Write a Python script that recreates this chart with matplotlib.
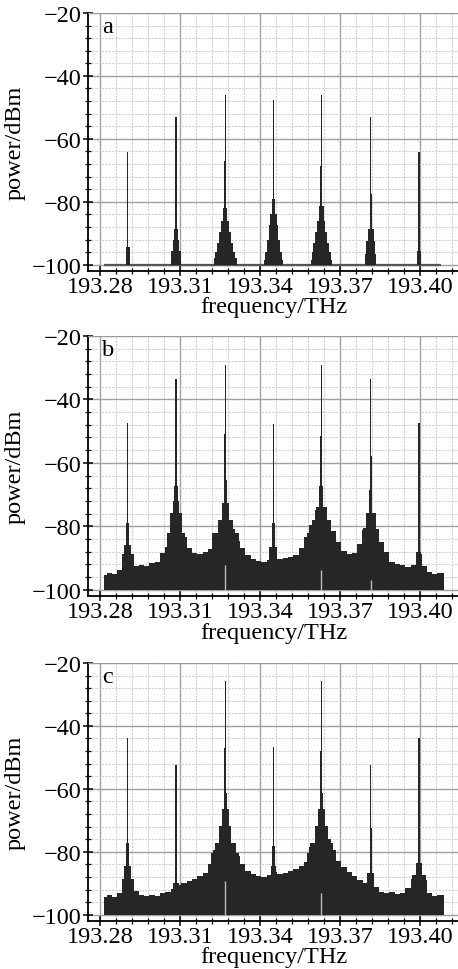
import matplotlib
matplotlib.use("Agg")
import matplotlib.pyplot as plt
from matplotlib.ticker import MultipleLocator, FormatStrFormatter

plt.rcParams['font.family'] = ['Liberation Serif', 'DejaVu Serif']

# peak centre frequencies (THz), same in all three spectra
peak_freq = [193.2904, 193.3085, 193.3270, 193.3450, 193.3630, 193.3815, 193.3996]

# stepped peak profiles: (full width in THz, level in dBm), narrowest first
peaks_a = [
    [(0.0005, -64.1), (0.0016, -94.5)],
    [(0.0005, -53.0), (0.0008, -75.5), (0.0013, -88.5), (0.0025, -92.0), (0.0038, -95.5)],
    [(0.0005, -46.2), (0.0008, -67.0), (0.0015, -82.0), (0.0030, -86.0), (0.0045, -89.5),
     (0.0060, -93.0), (0.0075, -96.0), (0.0085, -98.0)],
    [(0.0005, -47.7), (0.0012, -79.0), (0.0025, -84.0), (0.0035, -87.5), (0.0050, -92.0),
     (0.0065, -96.0), (0.0072, -98.5)],
    [(0.0005, -46.2), (0.0008, -68.5), (0.0017, -81.5), (0.0030, -86.0), (0.0045, -89.5),
     (0.0060, -93.0), (0.0072, -96.0), (0.0080, -98.5)],
    [(0.0005, -53.0), (0.0009, -77.5), (0.0022, -88.5), (0.0032, -92.5), (0.0043, -96.5)],
    [(0.0005, -64.1), (0.0016, -95.6)],
]
peaks_b = [
    [(0.0005, -47.3), (0.0010, -79.0), (0.0025, -86.0), (0.0044, -88.6)],
    [(0.0005, -33.5), (0.0008, -55.8), (0.0013, -67.4), (0.0025, -72.0), (0.0044, -75.9), (0.0071, -82.2)],
    [(0.0005, -29.3), (0.0008, -51.0), (0.0013, -65.3), (0.0025, -72.7), (0.0056, -78.0), (0.0100, -82.2)],
    [(0.0005, -47.8), (0.0010, -79.0), (0.0030, -86.5)],
    [(0.0005, -29.3), (0.0008, -51.5), (0.0015, -67.4), (0.0044, -73.8), (0.0069, -78.0), (0.0106, -82.2)],
    [(0.0005, -33.5), (0.0008, -57.9), (0.0013, -68.5), (0.0037, -75.9), (0.0062, -81.2)],
    [(0.0005, -47.3), (0.0010, -78.8), (0.0025, -88.6)],
]
peaks_c = [
    [(0.0005, -43.7), (0.0010, -77.1), (0.0028, -84.6), (0.0044, -88.8)],
    [(0.0005, -52.5), (0.0008, -70.7), (0.0022, -89.8)],
    [(0.0005, -25.6), (0.0008, -47.0), (0.0013, -61.2), (0.0025, -66.5), (0.0044, -71.8),
     (0.0081, -77.1), (0.0106, -80.3)],
    [(0.0005, -46.8), (0.0010, -78.2), (0.0021, -84.6)],
    [(0.0005, -25.6), (0.0008, -48.0), (0.0013, -61.2), (0.0025, -66.5), (0.0050, -71.8),
     (0.0087, -77.1), (0.0110, -80.3)],
    [(0.0005, -52.5), (0.0008, -72.3), (0.0025, -86.7)],
    [(0.0005, -43.7), (0.0010, -75.5), (0.0025, -83.5), (0.0050, -87.3)],
]

# noise floor / broad skirts of spectra b and c
floor_freq = [193.2815, 193.2835, 193.2855, 193.2875, 193.2895, 193.2915, 193.2935, 193.2955,
              193.2975, 193.2995, 193.3015, 193.3035, 193.3055, 193.3075, 193.3095, 193.3115,
              193.3135, 193.3155, 193.3175, 193.3195, 193.3215, 193.3235, 193.3255, 193.3275,
              193.3295, 193.3315, 193.3335, 193.3355, 193.3375, 193.3395, 193.3415, 193.3435,
              193.3455, 193.3475, 193.3495, 193.3515, 193.3535, 193.3555, 193.3575, 193.3595,
              193.3615, 193.3635, 193.3655, 193.3675, 193.3695, 193.3715, 193.3735, 193.3755,
              193.3775, 193.3795, 193.3815, 193.3835, 193.3855, 193.3875, 193.3895, 193.3915,
              193.3935, 193.3955, 193.3975, 193.3995, 193.4015, 193.4035, 193.4055, 193.4075,
              193.4088]
floor_b = [-95.3, -94.6, -94.9, -93.8, -92.0, -92.0, -92.6, -92.2,
           -92.6, -91.6, -91.2, -88.5, -86.5, -82.0, -80.0, -83.5,
           -86.8, -88.3, -88.6, -88.2, -87.2, -82.5, -78.0, -77.0,
           -81.0, -84.5, -86.8, -89.2, -90.3, -90.9, -91.4, -90.5,
           -89.5, -90.4, -90.0, -89.6, -89.0, -86.8, -83.5, -79.5,
           -75.0, -74.0, -78.0, -81.5, -85.0, -87.8, -88.9, -88.5,
           -85.5, -80.5, -77.0, -81.0, -85.0, -88.0, -91.2, -91.8,
           -92.3, -92.8, -92.2, -88.0, -92.5, -94.3, -94.9, -94.6,
           -94.6]
floor_c = [-94.3, -93.6, -94.4, -93.2, -91.5, -90.8, -92.5, -93.8,
           -94.2, -93.6, -94.0, -93.1, -92.8, -91.7, -90.5, -89.8,
           -89.2, -88.5, -87.8, -86.9, -84.0, -79.5, -73.0, -72.0,
           -78.0, -81.5, -84.0, -86.0, -87.2, -87.6, -87.9, -87.3,
           -86.5, -87.2, -86.8, -86.2, -85.4, -84.6, -83.2, -78.5,
           -72.5, -71.5, -76.0, -79.5, -82.8, -84.8, -86.4, -87.6,
           -89.1, -90.0, -89.0, -91.2, -92.7, -93.1, -92.8, -93.5,
           -93.0, -91.5, -88.5, -86.0, -89.0, -93.2, -94.2, -93.8,
           -93.8]

# light gaps visible inside the filled spectra: (freq, upper level)
gaps_b = [(193.3270, -92.3), (193.3630, -93.9), (193.3815, -97.0)]
gaps_c = [(193.3270, -89.3), (193.3630, -93.0)]

baseline_a = (193.2815, 193.4080)

panels = [
    ('a', peaks_a, None, [], 0.7196, 0.2660),
    ('b', peaks_b, floor_b, gaps_b, 0.3845, 0.2681),
    ('c', peaks_c, floor_c, gaps_c, 0.0495, 0.2660),
]

dark = '#262626'
fs = 17.5
fig = plt.figure(figsize=(4.58, 9.70), dpi=100)

for label, peaks, floor, gaps, bottom, height in panels:
    ax = fig.add_axes([0.192, bottom, 0.808, height])
    ax.set_xlim(193.2755, 193.4142)
    ax.set_ylim(-102, -20)

    if floor is None:
        ax.hlines(-100, baseline_a[0], baseline_a[1], color='#555555', lw=1.6, zorder=2)
    else:
        ax.fill_between(floor_freq, -100, floor, step='mid', color=dark, lw=0, zorder=2)

    for f0, tiers in zip(peak_freq, peaks):
        for w, lev in tiers:
            ax.bar(f0, lev + 100, width=w, bottom=-100, color=dark, lw=0, zorder=3)

    for fg, top in gaps:
        ax.vlines(fg, -100, top, color='#bdbdbd', lw=1.0, zorder=4)

    ax.xaxis.set_major_locator(MultipleLocator(0.03, offset=193.28))
    ax.xaxis.set_minor_locator(MultipleLocator(0.006, offset=193.28))
    ax.xaxis.set_major_formatter(FormatStrFormatter('%.2f'))
    ax.yaxis.set_major_locator(MultipleLocator(20))
    ax.yaxis.set_minor_locator(MultipleLocator(4))

    ax.set_axisbelow(True)
    ax.grid(which='major', color='#a0a0a0', lw=1.0)
    ax.grid(which='minor', color='#d0d0d0', lw=0.8, linestyle=(0, (2, 1)))

    ax.spines['right'].set_visible(False)
    ax.spines['top'].set_color('#9a9a9a')
    ax.spines['top'].set_linestyle((0, (5, 1.5)))
    ax.spines['left'].set_linewidth(1.3)
    ax.spines['bottom'].set_linewidth(1.3)

    ax.tick_params(which='major', direction='inout', length=7, width=1.1,
                   labelsize=fs, pad=1.0)
    ax.tick_params(which='minor', direction='inout', length=4, width=0.9)
    ax.tick_params(axis='x', which='major', pad=0.0)

    ax.set_ylabel('power/dBm', fontsize=fs)
    ax.yaxis.set_label_coords(-0.168, 0.5)
    ax.set_xlabel('frequency/THz', fontsize=fs)
    ax.xaxis.set_label_coords(0.503, -0.098)

    ax.text(0.037, 0.926, label, transform=ax.transAxes, fontsize=fs, va='baseline')

fig.savefig('out.png', dpi=100)
